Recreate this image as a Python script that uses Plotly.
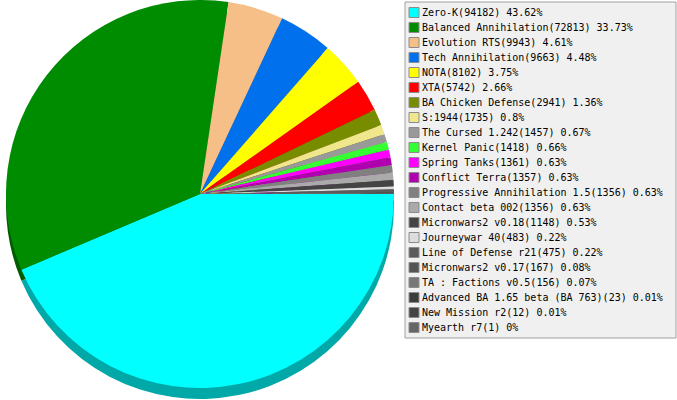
import plotly.graph_objects as go

labels = ["Zero-K", "Balanced Annihilation", "Evolution RTS", "Tech Annihilation", "NOTA", "XTA",
          "BA Chicken Defense", "S:1944", "The Cursed 1.242", "Kernel Panic", "Spring Tanks",
          "Conflict Terra", "Progressive Annihilation 1.5", "Contact beta 002", "Micronwars2 v0.18",
          "Journeywar 40", "Line of Defense r21", "Micronwars2 v0.17", "TA : Factions v0.5",
          "Advanced BA 1.65 beta (BA 763)", "New Mission r2", "Myearth r7"]
values = [94182, 72813, 9943, 9663, 8102, 5742, 2941, 1735, 1457, 1418, 1361, 1357, 1356, 1356,
          1148, 483, 475, 167, 156, 23, 12, 1]
colors = ["#00FFFF", "#008C00", "#F5BF87", "#0070EC", "#FFFF00", "#FF0000", "#788C00", "#F0E68C",
          "#999999", "#33FF33", "#FF00FF", "#B000B0", "#808080", "#AAAAAA", "#444444", "#DDDDDD",
          "#5C5C5C", "#555555", "#777777", "#3C3C3C", "#444444", "#666666"]

W, H = 677, 400
total = sum(values)


def darken(hx, f=0.66):
    r, g, b = int(hx[1:3], 16), int(hx[3:5], 16), int(hx[5:7], 16)
    return "#%02X%02X%02X" % (int(r * f), int(g * f), int(b * f))


def px_dom(x0, x1, y0, y1):
    return dict(x=[x0 / W, x1 / W], y=[1 - y1 / H, 1 - y0 / H])


cx, cy, r, depth = 200, 194, 194, 11

fig = go.Figure()
fig.add_trace(go.Pie(labels=labels, values=values, sort=False, direction="clockwise", rotation=90,
                     marker=dict(colors=[darken(c) for c in colors], line=dict(width=0)),
                     textinfo="none", hoverinfo="skip", showlegend=False,
                     domain=px_dom(cx - r, cx + r, cy - r + depth, cy + r + depth)))
fig.add_trace(go.Pie(labels=labels, values=values, sort=False, direction="clockwise", rotation=90,
                     marker=dict(colors=colors, line=dict(width=0)),
                     textinfo="none", hoverinfo="label+value+percent", showlegend=False,
                     domain=px_dom(cx - r, cx + r, cy - r, cy + r)))

shapes = [dict(type="rect", xref="paper", yref="paper", x0=405 / W, x1=676 / W,
               y0=1 - 338 / H, y1=1 - 2 / H, fillcolor="#F0F0F0",
               line=dict(color="#A0A0A0", width=1), layer="below")]
annotations = []
y_first, step = 12.5, 15.0
for i, (lab, v, c) in enumerate(zip(labels, values, colors)):
    yc = y_first + i * step
    shapes.append(dict(type="rect", xref="paper", yref="paper", x0=409 / W, x1=419 / W,
                       y0=1 - (yc + 5) / H, y1=1 - (yc - 5) / H, fillcolor=c,
                       line=dict(color="#8C8C8C", width=1)))
    pct = round(v / total * 100, 2)
    annotations.append(dict(xref="paper", yref="paper", x=420 / W, y=1 - yc / H,
                            xanchor="left", yanchor="middle", showarrow=False,
                            text=f"{lab}({v}) {pct:g}%",
                            font=dict(family="DejaVu Sans Mono", size=10, color="#000000")))

fig.update_layout(width=W, height=H, margin=dict(l=0, r=0, t=0, b=0),
                  paper_bgcolor="#FFFFFF", plot_bgcolor="#FFFFFF",
                  shapes=shapes, annotations=annotations, showlegend=False)
fig.write_html("out.html", config={"displayModeBar": False},
               post_script="document.body.style.margin='0';document.body.style.overflow='hidden';"
                           "document.documentElement.style.overflow='hidden';")
